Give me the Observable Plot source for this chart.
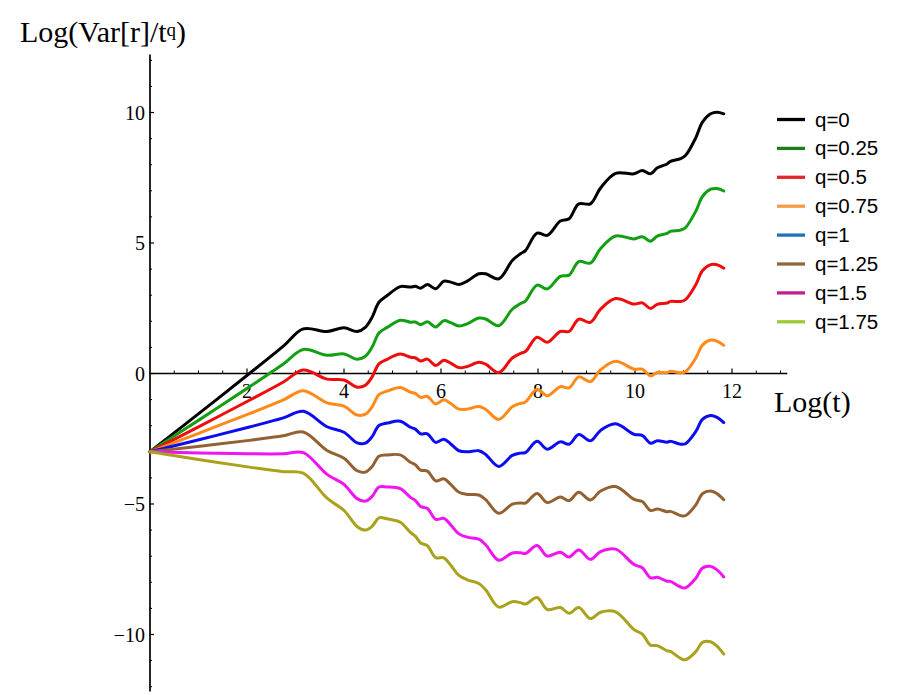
<!DOCTYPE html>
<html>
<head>
<meta charset="utf-8">
<script src="https://cdn.jsdelivr.net/npm/d3@7"></script>
<script src="https://cdn.jsdelivr.net/npm/@observablehq/plot@0.6"></script>
<style>
  html, body { margin: 0; padding: 0; background: #fff; }
  #wrap { width: 900px; height: 695px; }
</style>
</head>
<body>
<div id="wrap"></div>
<script>
// Log(t) sample positions
const logT = [0, 1.03, 2.05, 2.75, 3.16, 3.65, 4.00, 4.27, 4.44, 4.58, 4.72, 4.89, 5.16, 5.37, 5.47, 5.58, 5.72, 5.89,
  6.06, 6.20, 6.37, 6.54, 6.78, 6.92, 7.19, 7.47, 7.64, 7.74, 7.98, 8.19, 8.46, 8.64, 8.84, 9.08, 9.29, 9.60,
  9.98, 10.15, 10.32, 10.46, 10.66, 10.73, 10.94, 11.04, 11.25, 11.39, 11.56, 11.69, 11.83];
// Log(Var[r]) : the q = 0 curve (black)
const logVar = [-3.00, -1.50, 0.00, 1.05, 1.71, 1.61, 1.75, 1.61, 1.77, 2.16, 2.73, 2.99, 3.33, 3.31, 3.34, 3.27, 3.41, 3.25,
  3.54, 3.50, 3.41, 3.54, 3.82, 3.82, 3.63, 4.33, 4.59, 4.71, 5.38, 5.29, 5.84, 5.93, 6.50, 6.50, 7.11, 7.67,
  7.65, 7.78, 7.65, 7.88, 8.03, 8.13, 8.23, 8.35, 9.02, 9.63, 9.95, 10.01, 9.95];
// exponents q; each curve is Log(Var[r]) - q·Log(t)
const qValues = [0, 0.25, 0.5, 0.75, 1, 1.25, 1.5, 1.75];
const qLabels = ["q=0", "q=0.25", "q=0.5", "q=0.75", "q=1", "q=1.25", "q=1.5", "q=1.75"];
const lineColors = ["#000000", "#12a012", "#ee0c0c", "#ff8a1a", "#0c0cf0", "#946232", "#f014f0", "#aaa21c"];
const legendColors = ["#000000", "#1b7d1b", "#e3262a", "#f39d4a", "#2272b4", "#8e653e", "#c41e8c", "#9cca34"];

const xTicks = [2, 4, 6, 8, 10, 12];
const xTickLabels = ["2", "4", "6", "8", "10", "12"];
const yTicks = [-10, -5, 0, 5, 10];
const yTickLabels = ["\u221210", "\u22125", "0", "5", "10"];
const xMinor = d3.range(0.5, 13.01, 0.5).filter(d => !xTicks.includes(d));
const yMinor = d3.range(-12, 12.01, 1).filter(d => d % 5 !== 0);

const rows = qValues.flatMap((q, k) =>
  logT.map((t, i) => ({t, v: logVar[i] - q * t, series: qLabels[k]})));

const serif = "'Liberation Serif', 'Times New Roman', serif";

const chart = Plot.plot({
  width: 900,
  height: 695,
  marginLeft: 149.5,
  marginRight: 112.7,
  marginTop: 54.6,
  marginBottom: 3.6,
  x: {domain: [0, 13.15], axis: null},
  y: {domain: [-12.2, 12.2], axis: null},
  color: {domain: qLabels, range: lineColors},
  style: {background: "#fff"},
  marks: [
    Plot.ruleY([0], {stroke: "#000", strokeWidth: 1.7}),
    Plot.ruleX([0], {stroke: "#000", strokeWidth: 1.7}),
    Plot.ruleX(xMinor, {x: d => d, y1: 0, y2: 0, insetTop: -2.5, stroke: "#000", strokeWidth: 1}),
    Plot.ruleX(xTicks, {x: d => d, y1: 0, y2: 0, insetTop: -4.5, stroke: "#000", strokeWidth: 1.2}),
    Plot.ruleY(yMinor, {y: d => d, x1: 0, x2: 0, insetRight: -2.5, stroke: "#000", strokeWidth: 1}),
    Plot.ruleY(yTicks, {y: d => d, x1: 0, x2: 0, insetRight: -4.5, stroke: "#000", strokeWidth: 1.2}),
    Plot.text(xTicks, {x: d => d, y: 0, text: (d, i) => xTickLabels[i], dy: 18, fontFamily: serif, fontSize: 20, fill: "#000"}),
    Plot.text(yTicks, {x: 0, y: d => d, text: (d, i) => yTickLabels[i], dx: -5, dy: 1, textAnchor: "end", fontFamily: serif, fontSize: 20, fill: "#000"}),
    Plot.line(rows, {x: "t", y: "v", z: "series", stroke: "series", strokeWidth: 3, curve: "catmull-rom", strokeLinejoin: "round", strokeLinecap: "round"})
  ]
});

const svg = d3.select(chart);
// y-axis label with superscript q
const yl = svg.append("text").attr("x", 20).attr("y", 42).attr("text-anchor", "start")
  .attr("font-family", serif).attr("font-size", 30).attr("fill", "#000");
yl.append("tspan").text("Log(Var[r]/t");
yl.append("tspan").attr("font-size", 19).attr("dy", -6).text("q");
yl.append("tspan").attr("dy", 6).text(")");
// x-axis label
svg.append("text").attr("x", 774).attr("y", 412).attr("text-anchor", "start")
  .attr("font-family", serif).attr("font-size", 30).attr("fill", "#000").text("Log(t)");

// legend
const lg = svg.append("g").selectAll("g").data(qLabels).join("g")
  .attr("transform", (d, i) => `translate(0, ${119.5 + 28.9 * i})`);
lg.append("line").attr("x1", 777).attr("x2", 805).attr("y1", 0).attr("y2", 0)
  .attr("stroke", (d, i) => legendColors[i]).attr("stroke-width", 3.3);
lg.append("text").attr("x", 815).attr("y", 7).attr("text-anchor", "start")
  .attr("font-family", "'Liberation Sans', Arial, sans-serif").attr("font-size", 20.5).attr("fill", "#000")
  .text(d => d);

document.getElementById("wrap").append(chart);
</script>
</body>
</html>
